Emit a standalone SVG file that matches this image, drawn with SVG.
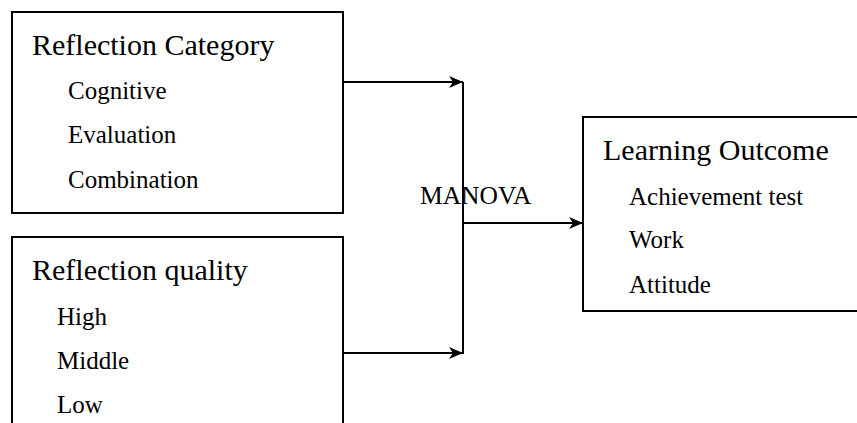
<svg xmlns="http://www.w3.org/2000/svg" width="857" height="423" viewBox="0 0 857 423">
<defs>
<style>
.box{fill:#fff;stroke:#000;stroke-width:2}
.t{font-family:"Liberation Serif","Times New Roman",serif;fill:#000}
.h{font-size:30px}
.i{font-size:25px}
.m{font-size:25.5px}
.ln{stroke:#000;stroke-width:2;fill:none}
</style>
<marker id="ah" viewBox="0 0 14 12" refX="14" refY="6" markerWidth="14" markerHeight="12" markerUnits="userSpaceOnUse" orient="auto">
<path d="M0,0 L14,6 L0,12 L4,6 Z" fill="#000"/>
</marker>
</defs>
<rect width="857" height="423" fill="#fff"/>
<g id="connectors">
<line class="ln" x1="343" y1="82" x2="463" y2="82" marker-end="url(#ah)"/>
<line class="ln" x1="343" y1="353" x2="463" y2="353" marker-end="url(#ah)"/>
<line class="ln" x1="463" y1="82" x2="463" y2="354"/>
<line class="ln" x1="463" y1="223" x2="583" y2="223" marker-end="url(#ah)"/>
<text class="t m" x="420" y="204">MANOVA</text>
</g>
<g id="category">
<rect class="box" x="12" y="12" width="331" height="201"/>
<text class="t h" x="32" y="55">Reflection Category</text>
<text class="t i" x="68" y="99">Cognitive</text>
<text class="t i" x="68" y="143">Evaluation</text>
<text class="t i" x="68" y="188">Combination</text>
</g>
<g id="quality">
<rect class="box" x="12" y="237" width="331" height="200"/>
<text class="t h" x="32" y="280">Reflection quality</text>
<text class="t i" x="57" y="325">High</text>
<text class="t i" x="57" y="369">Middle</text>
<text class="t i" x="57" y="413">Low</text>
</g>
<g id="outcome">
<rect class="box" x="583" y="117" width="290" height="194"/>
<text class="t h" x="603" y="160">Learning Outcome</text>
<text class="t i" x="629" y="205">Achievement test</text>
<text class="t i" x="629" y="248">Work</text>
<text class="t i" x="629" y="293">Attitude</text>
</g>
</svg>
